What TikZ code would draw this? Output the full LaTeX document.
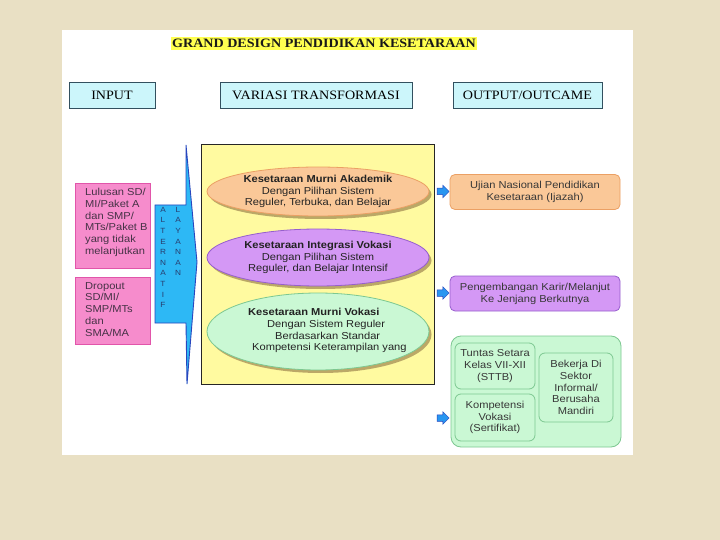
\documentclass[tikz,border=0pt]{standalone}
\usepackage{fontspec}
\newfontfamily\sansw[FakeStretch=1.1]{Liberation Sans}
\newfontfamily\serifw[FakeStretch=1.1]{Liberation Serif}
\usetikzlibrary{shapes.geometric,shapes.arrows,shadows}
\definecolor{bgbeige}{RGB}{233,224,196}
\definecolor{hdrfill}{RGB}{204,246,251}
\definecolor{hdrline}{RGB}{50,80,95}
\definecolor{pinkfill}{RGB}{246,140,204}
\definecolor{pinkline}{RGB}{225,85,170}
\definecolor{pinktext}{RGB}{70,50,70}
\definecolor{arrfill}{RGB}{45,184,245}
\definecolor{arrline}{RGB}{40,70,190}
\definecolor{arrtext}{RGB}{40,60,110}
\definecolor{yelfill}{RGB}{255,250,160}
\definecolor{orfill}{RGB}{250,200,152}
\definecolor{orline}{RGB}{235,160,100}
\definecolor{pufill}{RGB}{212,152,245}
\definecolor{puline}{RGB}{150,95,205}
\definecolor{grfill}{RGB}{202,248,212}
\definecolor{grline}{RGB}{125,200,145}
\definecolor{txtdark}{RGB}{35,35,35}
\definecolor{txtgray}{RGB}{55,55,55}
\definecolor{titlehl}{RGB}{255,255,80}
\definecolor{smallarr}{RGB}{40,150,240}
\begin{document}
\begin{tikzpicture}[x=1pt,y=-1pt,
  sfont/.style={font=\sansw\fontsize{10.1}{11.8}\selectfont},
  hdr/.style={draw=hdrline, fill=hdrfill, line width=0.8pt, minimum height=26pt, inner sep=0pt,
    font=\serifw\fontsize{12.8}{14}\selectfont, text=black},
  pinkbox/.style={draw=pinkline, fill=pinkfill, line width=0.8pt, minimum width=75pt, inner sep=0pt},
  pinktxt/.style={sfont, text=pinktext, align=left, inner sep=0pt, anchor=north west},
  ell/.style={ellipse, line width=0.8pt, minimum width=222pt, inner sep=0pt, sfont, text=txtdark, align=center,
    drop shadow={shadow xshift=2.5pt, shadow yshift=-3pt, fill=black!45!brown, opacity=0.45}},
  outbox/.style={rounded corners=5pt, line width=0.8pt, minimum width=170pt, minimum height=35pt,
    inner sep=0pt, sfont, text=txtgray, align=center},
  inbox/.style={draw=grline, fill=grfill, rounded corners=6pt, line width=0.8pt, inner sep=0pt,
    sfont, text=txtgray, align=center},
  smarrow/.style={single arrow, draw=arrline, fill=smallarr, line width=0.5pt, minimum height=12pt,
    minimum width=12pt, single arrow head extend=3pt, inner xsep=0pt, inner ysep=3pt},
  lettercol/.style={font=\sansw\fontsize{7.5}{10.6}\selectfont, text=arrtext, align=center, inner sep=0pt, anchor=north}
]
\useasboundingbox (0,0) rectangle (720,540);
\fill[bgbeige] (0,0) rectangle (720,540);
\fill[white] (62,30) rectangle (633,455);

% title
\node[fill=titlehl, inner xsep=1.5pt, inner ysep=2.5pt, font=\serifw\bfseries\fontsize{12.8}{14}\selectfont, text=black!90]
  (title) at (324,43.5) {GRAND DESIGN PENDIDIKAN KESETARAAN};

% headers
\node[hdr, minimum width=86pt] (hin) at (112,95) {INPUT};
\node[hdr, minimum width=192pt] (hvar) at (316,95) {VARIASI TRANSFORMASI};
\node[hdr, minimum width=149pt] (hout) at (527.5,95) {OUTPUT/OUTCAME};

% input boxes
\node[pinkbox, minimum height=85pt] (p1) at (112.5,225.5) {};
\node[pinktxt] (p1t) at (85,188) {Lulusan SD/\\MI/Paket A\\dan SMP/\\MTs/Paket B\\yang tidak\\melanjutkan};
\node[pinkbox, minimum height=67pt] (p2) at (112.5,310.5) {};
\node[pinktxt] (p2t) at (85,282) {Dropout\\SD/MI/\\SMP/MTs\\dan\\SMA/MA};

% big blue arrow
\draw[fill=arrfill, draw=arrline, line width=0.9pt, line join=miter]
  (155,205) -- (186,205) -- (186,145) -- (197,262) -- (187,384) -- (186,323) -- (155,323) -- cycle;
\node[lettercol] (alt) at (163,207) {A\\L\\T\\E\\R\\N\\A\\T\\I\\F};
\node[lettercol] (lay) at (178,207) {L\\A\\Y\\A\\N\\A\\N};

% transformation panel
\node[draw=black!85, fill=yelfill, line width=0.8pt, minimum width=233pt, minimum height=240pt, inner sep=0pt]
  (trans) at (317.5,264) {};
\node[ell, draw=orline, fill=orfill, minimum height=49pt] (e1) at (318,191.5)
  {\textbf{Kesetaraan Murni Akademik}\\Dengan Pilihan Sistem\\Reguler, Terbuka, dan Belajar};
\node[ell, draw=puline, fill=pufill, minimum height=57pt] (e2) at (318,257.5)
  {\textbf{Kesetaraan Integrasi Vokasi}\\Dengan Pilihan Sistem\\Reguler, dan Belajar Intensif};
\node[ell, draw=grline, fill=grfill, minimum height=77pt] (e3) at (318,331.5) {};
\node[sfont, text=txtdark, align=left, inner sep=0pt, anchor=north west] (e3t) at (248,308)
  {\textbf{Kesetaraan Murni Vokasi}\\\hspace*{19pt}Dengan Sistem Reguler\\\hspace*{27pt}Berdasarkan Standar\\\hspace*{4pt}Kompetensi Keterampilan yang};

% small arrows
\node[smarrow] (a1) at (441.5,191.5) {};
\node[smarrow] (a2) at (441.5,293) {};
\node[smarrow] (a3) at (441.5,418) {};

% outputs
\node[outbox, draw=orline, fill=orfill] (o1) at (535,192) {Ujian Nasional Pendidikan\\Kesetaraan (Ijazah)};
\node[outbox, draw=puline, fill=pufill] (o2) at (535,293.5) {Pengembangan Karir/Melanjut\\Ke Jenjang Berkutnya};
\node[draw=grline, fill=grfill, rounded corners=10pt, line width=0.8pt, minimum width=170pt, minimum height=111pt, inner sep=0pt]
  (o3) at (536,391.5) {};
\node[inbox, minimum width=80pt, minimum height=46pt] (i1) at (495,366) {Tuntas Setara\\Kelas VII-XII\\(STTB)};
\node[inbox, minimum width=80pt, minimum height=47pt] (i2) at (495,417.5) {Kompetensi\\Vokasi\\(Sertifikat)};
\node[inbox, minimum width=74pt, minimum height=69pt] (i3) at (576,387.5) {Bekerja Di\\Sektor\\Informal/\\Berusaha\\Mandiri};
\end{tikzpicture}
\end{document}
